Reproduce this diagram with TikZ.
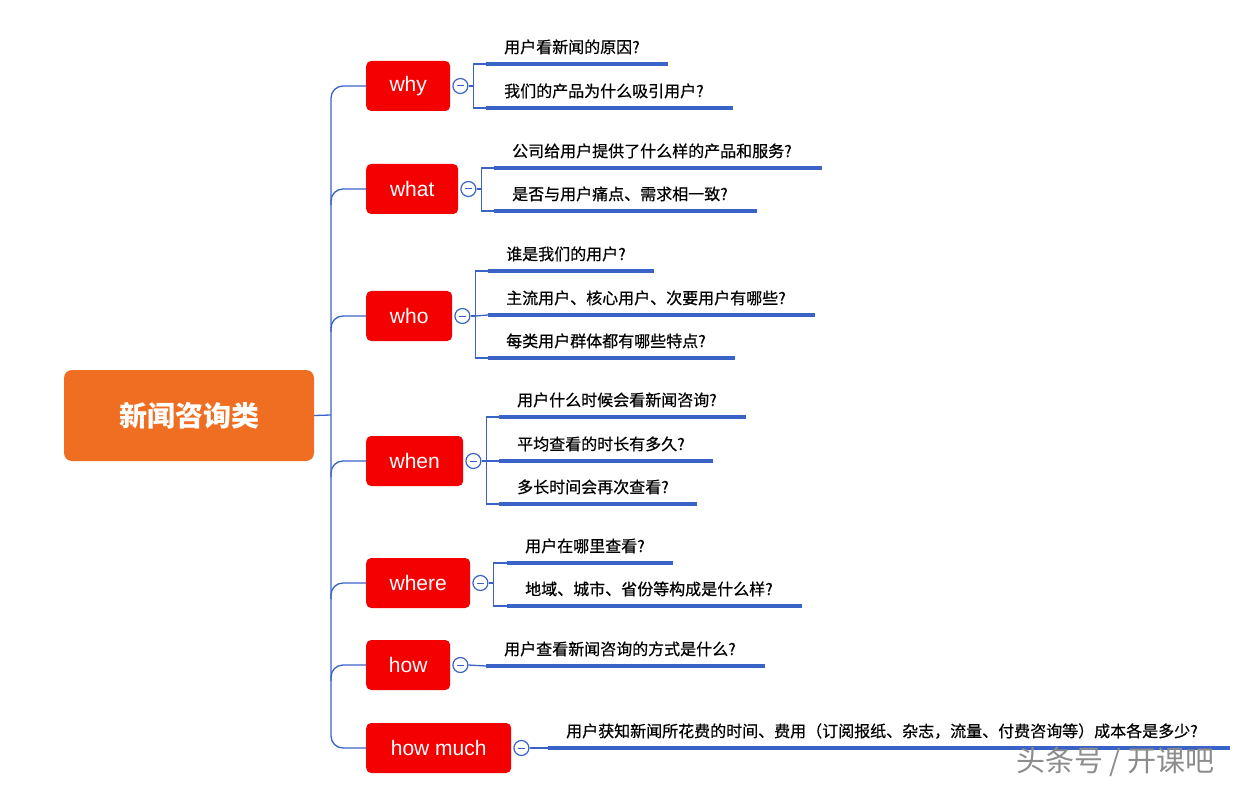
\documentclass[tikz,border=0pt]{standalone}
\usepackage{fontspec}
\setmainfont{Noto Sans CJK SC}
\newfontfamily\leaff[FakeBold=0.6]{Noto Sans CJK SC}
\newfontfamily\latinf{Liberation Sans}
\definecolor{bl}{HTML}{3A63C8}
\definecolor{rd}{HTML}{F50000}
\definecolor{org}{HTML}{EF6E22}
\begin{document}
\begin{tikzpicture}[x=1pt,y=-1pt,
  br/.style={fill=rd,rounded corners=5pt,text=white,font=\latinf\fontsize{21}{21}\selectfont,anchor=west,minimum height=50pt,inner xsep=0pt},
  col/.style={circle,draw=bl,fill=white,line width=1.2pt,minimum size=15pt,inner sep=0pt,
    path picture={\draw[bl,line width=1pt] ([xshift=-3.5pt]path picture bounding box.center)--([xshift=3.5pt]path picture bounding box.center);}},
  tr/.style={bl,line width=1.3pt,rounded corners=12pt},
  ln/.style={bl,line width=3.2pt},
  lf/.style={anchor=base west,font=\leaff\fontsize{16}{16}\selectfont,inner sep=0pt},
  bk/.style={bl,line width=1.3pt}]
\useasboundingbox (0,0) rectangle (1242,786);
\node[fill=org,rounded corners=8pt,minimum width=250pt,minimum height=91pt,text=white,font=\fontsize{28}{28}\selectfont\bfseries] (root) at (189,415.5) {新闻咨询类};
\coordinate (t) at (331,415);
\draw[bl,line width=1.3pt] (root.east) -- (t);
\foreach \n/\t/\x/\w in {why/why/86/84, what/what/189/92, who/who/316/86, when/when/461/97, where/where/583/104, how/how/665/84, hm/how much/748/145}{
  \node[br,minimum width=\w pt] (\n) at (366,\x) {\t};
  \node[col] (c\n) at ([xshift=10pt]\n.east) {};
}
\draw[tr] (why.west) -| (t) |- (hm.west);
\foreach \n in {what,who,when,where,how}{\draw[tr] ([yshift=-16pt]t|-\n.west) |- (\n.west);}
% leaf helper
\def\leaf#1#2#3#4#5{\coordinate (#1a) at (#2,#3); \coordinate (#1b) at (#4,#3);
  \draw[ln] (#1a) -- (#1b); \node[lf] (#1t) at ([shift={(18,-11)}]#1a) {#5};}
% why
\leaf{w1}{486}{64}{668}{用户看新闻的原因?}
\leaf{w2}{486}{108}{733}{我们的产品为什么吸引用户?}
\draw[bk] (cwhy.east) -- ++(5,0) coordinate (k1) ; \draw[bk] (w1a) -| (k1) |- (w2a);
% what
\leaf{a1}{494}{168}{822}{公司给用户提供了什么样的产品和服务?}
\leaf{a2}{494}{211}{757}{是否与用户痛点、需求相一致?}
\draw[bk] (cwhat.east) -- ++(5,0) coordinate (k2); \draw[bk] (a1a) -| (k2) |- (a2a);
% who
\leaf{o1}{488}{271}{654}{谁是我们的用户?}
\leaf{o2}{488}{315}{815}{主流用户、核心用户、次要用户有哪些?}
\leaf{o3}{488}{358}{735}{每类用户群体都有哪些特点?}
\draw[bk] (cwho.east) -- ++(5,0) coordinate (k3); \draw[bk] (o1a) -| (k3) |- (o3a); \draw[bk] (k3) -- (o2a);
% when
\leaf{n1}{499}{417}{746}{用户什么时候会看新闻咨询?}
\leaf{n2}{499}{461}{713}{平均查看的时长有多久?}
\leaf{n3}{499}{504}{697}{多长时间会再次查看?}
\draw[bk] (cwhen.east) -- ++(5,0) coordinate (k4); \draw[bk] (n1a) -| (k4) |- (n3a); \draw[bk] (k4) -- (n2a);
% where
\leaf{e1}{507}{563}{673}{用户在哪里查看?}
\leaf{e2}{507}{606}{802}{地域、城市、省份等构成是什么样?}
\draw[bk] (cwhere.east) -- ++(5,0) coordinate (k5); \draw[bk] (e1a) -| (k5) |- (e2a);
% how
\leaf{h1}{486}{666}{765}{用户查看新闻咨询的方式是什么?}
\draw[bk] (chow.east) -- (h1a);
% how much
\leaf{m1}{548}{748}{1230}{用户获知新闻所花费的时间、费用（订阅报纸、杂志，流量、付费咨询等）成本各是多少?}
\draw[bk] (chm.east) -- (m1a);
\node[anchor=west,text=black!45,font=\fontsize{29}{29}\selectfont,inner sep=0pt] (wm) at (1016,762) {头条号 / 开课吧};
\end{tikzpicture}
\end{document}
